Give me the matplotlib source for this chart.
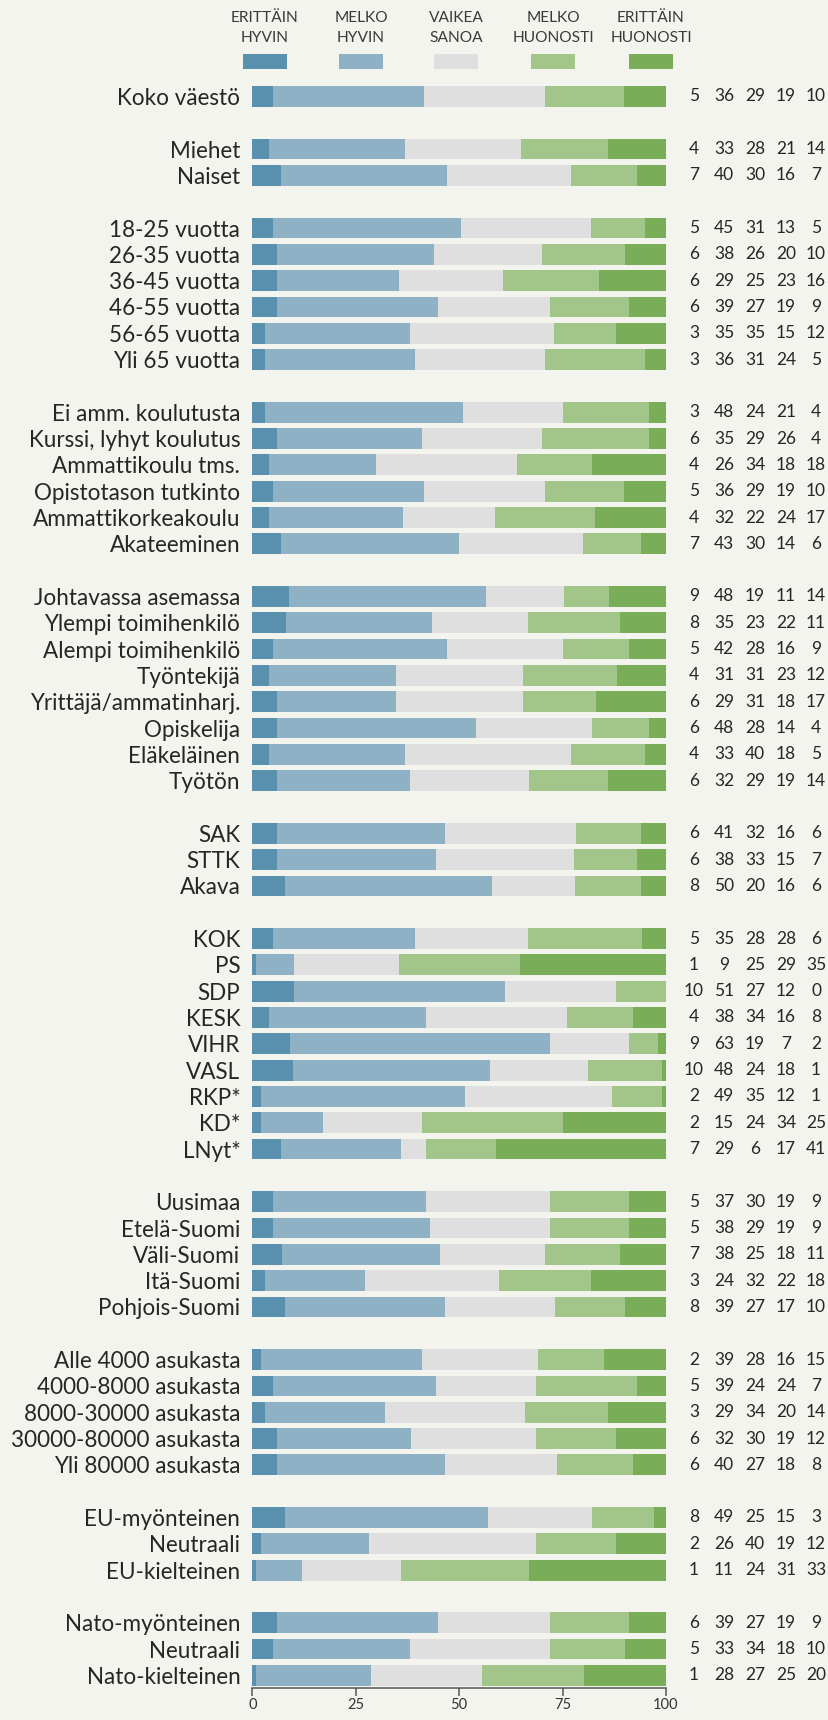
import matplotlib.pyplot as plt
from matplotlib.patches import Rectangle
import numpy as np

# kuinka hyvin asiat hoidetaan - vastausjakaumat (%)

categories = ['ERITTÄIN\nHYVIN', 'MELKO\nHYVIN', 'VAIKEA\nSANOA', 'MELKO\nHUONOSTI', 'ERITTÄIN\nHUONOSTI']
colors = ['#5990ae', '#8fb1c5', '#dfdfdf', '#a2c589', '#79ad57']

groups = [
    ['Koko väestö'],
    ['Miehet', 'Naiset'],
    ['18-25 vuotta', '26-35 vuotta', '36-45 vuotta', '46-55 vuotta', '56-65 vuotta', 'Yli 65 vuotta'],
    ['Ei amm. koulutusta', 'Kurssi, lyhyt koulutus', 'Ammattikoulu tms.', 'Opistotason tutkinto',
     'Ammattikorkeakoulu', 'Akateeminen'],
    ['Johtavassa asemassa', 'Ylempi toimihenkilö', 'Alempi toimihenkilö', 'Työntekijä',
     'Yrittäjä/ammatinharj.', 'Opiskelija', 'Eläkeläinen', 'Työtön'],
    ['SAK', 'STTK', 'Akava'],
    ['KOK', 'PS', 'SDP', 'KESK', 'VIHR', 'VASL', 'RKP*', 'KD*', 'LNyt*'],
    ['Uusimaa', 'Etelä-Suomi', 'Väli-Suomi', 'Itä-Suomi', 'Pohjois-Suomi'],
    ['Alle 4000 asukasta', '4000-8000 asukasta', '8000-30000 asukasta', '30000-80000 asukasta',
     'Yli 80000 asukasta'],
    ['EU-myönteinen', 'Neutraali', 'EU-kielteinen'],
    ['Nato-myönteinen', 'Neutraali', 'Nato-kielteinen'],
]

erittain_hyvin = [5, 4, 7, 5, 6, 6, 6, 3, 3, 3, 6, 4, 5, 4, 7, 9, 8, 5, 4, 6, 6, 4, 6,
                  6, 6, 8, 5, 1, 10, 4, 9, 10, 2, 2, 7, 5, 5, 7, 3, 8, 2, 5, 3, 6, 6,
                  8, 2, 1, 6, 5, 1]
melko_hyvin = [36, 33, 40, 45, 38, 29, 39, 35, 36, 48, 35, 26, 36, 32, 43, 48, 35, 42, 31, 29, 48, 33, 32,
               41, 38, 50, 35, 9, 51, 38, 63, 48, 49, 15, 29, 37, 38, 38, 24, 39, 39, 39, 29, 32, 40,
               49, 26, 11, 39, 33, 28]
vaikea_sanoa = [29, 28, 30, 31, 26, 25, 27, 35, 31, 24, 29, 34, 29, 22, 30, 19, 23, 28, 31, 31, 28, 40, 29,
                32, 33, 20, 28, 25, 27, 34, 19, 24, 35, 24, 6, 30, 29, 25, 32, 27, 28, 24, 34, 30, 27,
                25, 40, 24, 27, 34, 27]
melko_huonosti = [19, 21, 16, 13, 20, 23, 19, 15, 24, 21, 26, 18, 19, 24, 14, 11, 22, 16, 23, 18, 14, 18, 19,
                  16, 15, 16, 28, 29, 12, 16, 7, 18, 12, 34, 17, 19, 19, 18, 22, 17, 16, 24, 20, 19, 18,
                  15, 19, 31, 19, 18, 25]
erittain_huonosti = [10, 14, 7, 5, 10, 16, 9, 12, 5, 4, 4, 18, 10, 17, 6, 14, 11, 9, 12, 17, 4, 5, 14,
                     6, 7, 6, 6, 35, 0, 8, 2, 1, 1, 25, 41, 9, 9, 11, 18, 10, 15, 7, 14, 12, 8,
                     3, 12, 33, 9, 10, 20]

series = [erittain_hyvin, melko_hyvin, vaikea_sanoa, melko_huonosti, erittain_huonosti]

# rivien paikat, ryhmien väliin tyhjä rivi
labels = []
pos = []
y = 0
for g in groups:
    for name in g:
        labels.append(name)
        pos.append(y)
        y += 1
    y += 1
pos = np.array(pos)

vals = np.array(series, dtype=float)
shares = vals / vals.sum(axis=0) * 100

bg = '#f4f4ef'
plt.rcParams['font.family'] = ['Lato', 'DejaVu Sans']

fig = plt.figure(figsize=(8.29, 17.2), dpi=100, facecolor=bg)
ax = fig.add_axes([252.3 / 829, (1720 - 1688) / 1720, 413.7 / 829, (1688 - 83.3) / 1720])
ax.set_facecolor(bg)

left = np.zeros(len(labels))
for i in range(5):
    ax.barh(pos, shares[i], left=left, height=0.79, color=colors[i], linewidth=0)
    left += shares[i]

# fonttikoko niin että "Koko väestö" on n. 123 px leveä
r = fig.canvas.get_renderer()
t = fig.text(0, 0, 'Koko väestö', fontsize=17)
lab_size = 17 * 123 / t.get_window_extent(r).width
t.remove()

ax.set_xlim(0, 100)
ax.set_ylim(pos[-1] + 0.48, -0.5)
ax.set_yticks(pos, labels, fontsize=lab_size, color='#262626')
ax.tick_params(axis='y', length=0, pad=8.6)
ax.set_xticks([0, 25, 50, 75, 100])
ax.tick_params(axis='x', length=5.8, width=1.1, color='#555555', labelsize=10.5,
               labelcolor='#333333', pad=1.5)
for s in ['top', 'right', 'left']:
    ax.spines[s].set_visible(False)
ax.spines['bottom'].set_color('#555555')
ax.spines['bottom'].set_linewidth(1.1)

# luvut oikealla
col_x = [1.0677, 1.1403, 1.2152, 1.2901, 1.3627]
tr = ax.get_yaxis_transform()
for i in range(5):
    for p, v in zip(pos, series[i]):
        ax.text(col_x[i], p, str(v), transform=tr, ha='center', va='center',
                fontsize=12.5, color='#262626', clip_on=False)

# selite ylhäällä
leg_x = [265, 361, 456, 553, 651]
for cx, name, c in zip(leg_x, categories, colors):
    l1, l2 = name.split('\n')
    fig.text(cx / 829, 1 - 17.5 / 1720, l1, ha='center', va='center', fontsize=11.2, color='#3a3a3a')
    fig.text(cx / 829, 1 - 37.5 / 1720, l2, ha='center', va='center', fontsize=11.2, color='#3a3a3a')
    fig.patches.append(Rectangle(((cx - 22) / 829, 1 - 69 / 1720), 44 / 829, 15 / 1720,
                                 transform=fig.transFigure, color=c, linewidth=0))

fig.savefig('out.png', dpi=100, facecolor=bg)
